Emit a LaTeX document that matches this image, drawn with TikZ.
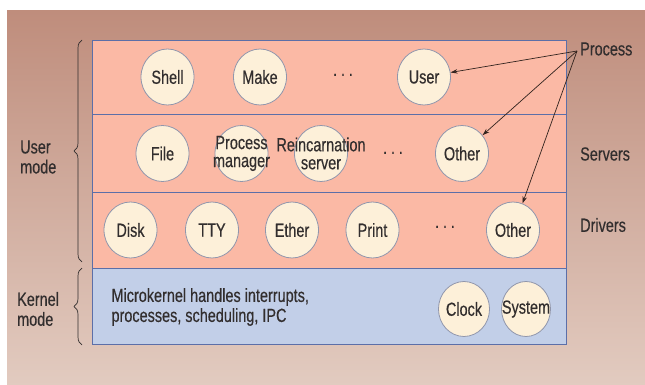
\documentclass[tikz,border=0pt]{standalone}
\usepackage{fontspec}
\setmainfont{Liberation Sans}[FakeStretch=0.76, FakeBold=0.4]
\usetikzlibrary{shapes.geometric,arrows.meta,decorations.pathreplacing}
\definecolor{bgtop}{RGB}{191,141,124}
\definecolor{bgbot}{RGB}{226,203,192}
\definecolor{rowpink}{RGB}{251,185,165}
\definecolor{kernblue}{RGB}{194,207,232}
\definecolor{bubfill}{RGB}{253,240,217}
\definecolor{bubline}{RGB}{144,150,172}
\definecolor{boxline}{RGB}{92,111,168}
\definecolor{txt}{RGB}{50,46,46}
\definecolor{arr}{RGB}{50,35,30}
\tikzset{
  bub/.style={ellipse, draw=bubline, line width=0.8pt, fill=bubfill, minimum width=53pt, minimum height=56pt, inner sep=0pt, font=\fontsize{19}{20}\selectfont, text=txt},
  layer/.style={draw=boxline, line width=0.8pt},
  lab/.style={font=\fontsize{19}{20}\selectfont, text=txt, align=left},
  dotsn/.style={font=\fontsize{19}{20}\selectfont, text=txt},
  parr/.style={draw=arr, line width=0.7pt, -{Stealth[length=7pt,width=4.5pt]}},
  brc/.style={draw=txt, line width=0.7pt, decorate, decoration={brace, amplitude=8pt}}
}
\begin{document}
\begin{tikzpicture}[x=1pt,y=-1pt]
\useasboundingbox (0,0) rectangle (645,385);
\fill[white] (0,0) rectangle (645,385);
\shade[top color=bgtop, bottom color=bgbot] (7,11) rectangle (645,385);
% layers
\draw[layer, fill=rowpink] (92,40) rectangle (566,114);
\draw[layer, fill=rowpink] (92,114) rectangle (566,192);
\draw[layer, fill=rowpink] (92,192) rectangle (566,268);
\draw[layer, fill=kernblue] (92,268) rectangle (566,344);
% row 1
\node[bub] (shell) at (167.5,77) {Shell};
\node[bub] (make) at (260,77) {Make};
\node[dotsn] (d1) at (343,77) {\textperiodcentered\hspace{3pt}\textperiodcentered\hspace{3pt}\textperiodcentered};
\node[bub] (user) at (424,77) {User};
% row 2
\node[bub] (file) at (162.5,153.5) {File};
\node[bub, label={[align=center, font=\fontsize{19}{18}\selectfont, text=txt]center:Process\\manager}] (pm) at (241.5,153.5) {};
\node[bub, label={[align=center, font=\fontsize{19}{18}\selectfont, text=txt]center:Reincarnation\\server}] (rs) at (321,153.5) {};
\node[dotsn] (d2) at (393,155) {\textperiodcentered\hspace{3pt}\textperiodcentered\hspace{3pt}\textperiodcentered};
\node[bub] (oserv) at (462,153.5) {Other};
% row 3
\node[bub] (disk) at (130.5,230) {Disk};
\node[bub] (tty) at (212,230) {TTY};
\node[bub] (ether) at (292,230) {Ether};
\node[bub] (print) at (372.5,230) {Print};
\node[dotsn] (d3) at (445,229) {\textperiodcentered\hspace{3pt}\textperiodcentered\hspace{3pt}\textperiodcentered};
\node[bub] (odrv) at (513,230) {Other};
% kernel
\node[lab, anchor=west] (mk) at (108,307) {Microkernel handles interrupts,\\processes, scheduling, IPC};
\node[bub, minimum width=50pt, minimum height=55pt] (clock) at (464,309) {Clock};
\node[bub, minimum width=49pt, minimum height=55pt, label={[font=\fontsize{19}{20}\selectfont, text=txt]center:System}] (sys) at (526,309) {};
% right labels
\node[lab, anchor=west, inner sep=1pt] (proc) at (579,49) {Process};
\node[lab, anchor=west, inner sep=1pt] (serv) at (579,154) {Servers};
\node[lab, anchor=west, inner sep=1pt] (drv) at (579,225) {Drivers};
\coordinate (ps) at (577,51);
\draw[parr] (ps) -- (user);
\draw[parr] (ps) -- (oserv);
\draw[parr] (ps) -- (odrv);
% left labels and braces
\coordinate (ub1) at (82,262);
\coordinate (ub2) at (82,40);
\coordinate (kb1) at (82,345);
\coordinate (kb2) at (82,268);
\draw[brc] (ub1) -- (ub2);
\draw[brc] (kb1) -- (kb2);
\node[lab, anchor=west, inner sep=0pt] (um) at (20,157) {User\\mode};
\node[lab, anchor=west, inner sep=0pt] (km) at (17,309) {Kernel\\mode};
\end{tikzpicture}
\end{document}
